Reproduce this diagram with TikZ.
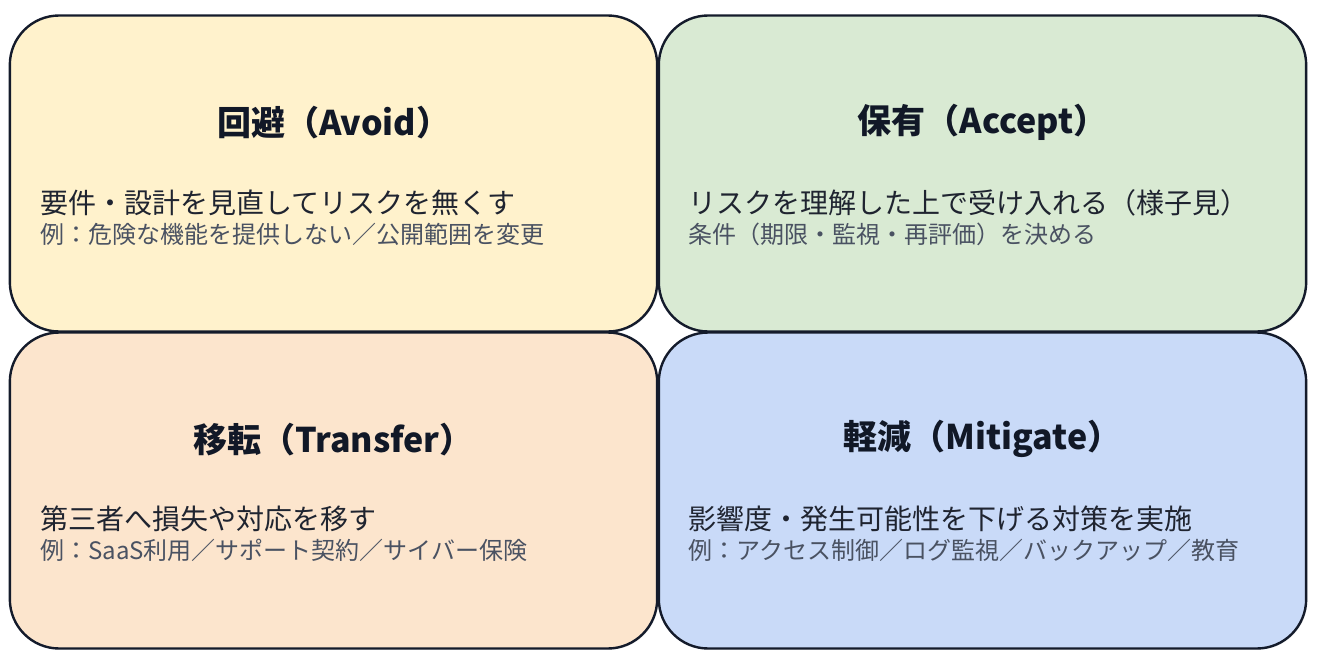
\documentclass[tikz,border=0pt]{standalone}
\usepackage{fontspec}
\setmainfont{Noto Sans CJK JP}
\usetikzlibrary{positioning}
\usetikzlibrary{shadows}
\definecolor{edge}{HTML}{141B2B}
\definecolor{titlecol}{HTML}{111827}
\definecolor{bodycol}{HTML}{1F2430}
\definecolor{excol}{HTML}{4A5262}
\definecolor{avoidfill}{HTML}{FFF2CC}
\definecolor{acceptfill}{HTML}{D9EAD3}
\definecolor{transferfill}{HTML}{FCE5CD}
\definecolor{mitigatefill}{HTML}{C9DAF8}

\begin{document}
\begin{tikzpicture}[x=0.75pt,y=-0.75pt]
\tikzset{basic/.style={draw=edge,line width=1.8pt,rounded corners=37pt,minimum width=485.5pt,minimum height=237pt,drop shadow={opacity=0.18,shadow xshift=0.9pt,shadow yshift=-0.9pt}}}
\tikzset{heading/.style={font=\fontsize{25.5}{30}\selectfont\bfseries,text=titlecol}}
\tikzset{body/.style={font=\fontsize{21}{25}\selectfont,text=bodycol,anchor=west,inner sep=0pt}}
\tikzset{example/.style={font=\fontsize{18}{21}\selectfont,text=excol,anchor=west,inner sep=0pt}}
    \useasboundingbox (0,0) rectangle (1318,664);
        \node[basic,fill=avoidfill] (avoid) at (333.5,173.5) {};
        \node[basic,fill=acceptfill] (accept) at (982.5,173.5) {};
        \node[basic,fill=transferfill] (transfer) at (333.5,490.5) {};
        \node[basic,fill=mitigatefill] (mitigate) at (982.5,490.5) {};
        \node[heading,below=81pt of avoid.north,anchor=center] (avoid-title) {回避（Avoid）};
        \node[heading,below=81pt of accept.north,anchor=center] (accept-title) {保有（Accept）};
        \node[heading,below=81pt of transfer.north,anchor=center] (transfer-title) {移転（Transfer）};
        \node[heading,below=81pt of mitigate.north,anchor=center] (mitigate-title) {軽減（Mitigate）};
        \node[body] (avoid-body) at (40,203) {要件・設計を見直してリスクを無くす};
        \node[example] (avoid-ex) at (40,234) {例：危険な機能を提供しない／公開範囲を変更};
        \node[body] (accept-body) at (688,203) {リスクを理解した上で受け入れる（様子見）};
        \node[example] (accept-ex) at (688,234) {条件（期限・監視・再評価）を決める};
        \node[body] (transfer-body) at (40,519) {第三者へ損失や対応を移す};
        \node[example] (transfer-ex) at (40,550) {例：SaaS利用／サポート契約／サイバー保険};
        \node[body] (mitigate-body) at (688,519) {影響度・発生可能性を下げる対策を実施};
        \node[example] (mitigate-ex) at (688,550) {例：アクセス制御／ログ監視／バックアップ／教育};
    \end{tikzpicture}
\end{document}
